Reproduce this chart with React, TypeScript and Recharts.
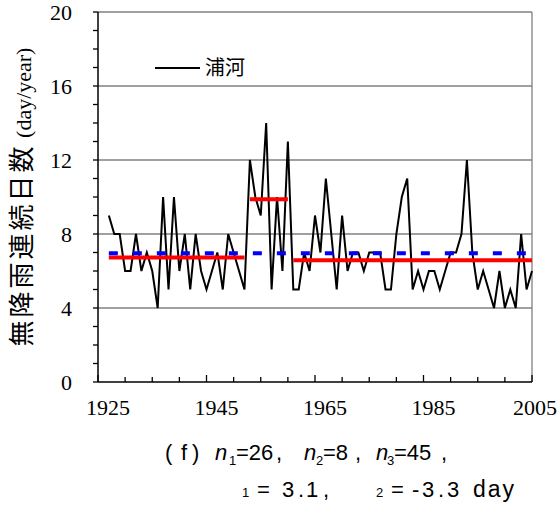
import React from 'react'
import { LineChart, Line, XAxis, YAxis, CartesianGrid, ReferenceLine } from 'recharts'

// 浦河: annual count of consecutive no-rain days, 1927-2005
const values = [
  9, 8, 8, 6, 6, 8, 6, 7, 6, 4, 10, 5, 10, 6, 8, 5, 8, 6, 5, 6, 7, 5, 8, 7, 6, 5,
  12, 10, 9, 14, 5, 10, 6, 13,
  5, 5, 7, 6, 9, 7, 11, 8, 5, 9, 6, 7, 7, 6, 7, 7, 7, 5, 5, 8,
  10, 11, 5, 6, 5, 6, 6, 5, 6, 7, 7, 8, 12, 7, 5, 6, 5, 4, 6, 4,
  5, 4, 8, 5, 6,
]
const firstYear = 1927
const years = values.map((_, i) => firstYear + i)

// periods n1=26, n2=8, n3=45
const periods = [
  { start: 1927, end: 1952 },
  { start: 1953, end: 1960 },
  { start: 1961, end: 2005 },
]

const xTicks = [1925, 1930, 1935, 1940, 1945, 1950, 1955, 1960, 1965, 1970, 1975, 1980, 1985, 1990, 1995, 2000, 2005]
const xLabels = [1925, 1945, 1965, 1985, 2005]
const yTicks = [0, 1, 2, 3, 4, 5, 6, 7, 8, 9, 10, 11, 12, 13, 14, 15, 16, 17, 18, 19, 20]
const yLabels = [0, 4, 8, 12, 16, 20]
const gridValues = [4, 8, 12, 16, 20]

const data = years.map((year, i) => ({ year, value: values[i] }))

const mean = (from: number, to: number) => {
  const sel = data.filter((d) => d.year >= from && d.year <= to)
  return sel.reduce((s, d) => s + d.value, 0) / sel.length
}
const overallMean = mean(years[0], years[years.length - 1])

const SERIF = '"Liberation Serif", "Times New Roman", serif'
const SANS = '"Liberation Sans", Arial, sans-serif'
const CJK = '"Noto Sans CJK JP", "Noto Sans CJK SC", sans-serif'

function XTick(props: any) {
  const { x, y, payload } = props
  const major = xLabels.includes(payload.value)
  return (
    <g>
      <line x1={x} y1={y} x2={x} y2={y - (major ? 7 : 5)} stroke="#000" strokeWidth={1.3} />
      {major && (
        <text x={Math.min(x + 10, 535)} y={y + 33} textAnchor="middle" fontSize={22} fontFamily={SERIF} fill="#000">
          {payload.value}
        </text>
      )}
    </g>
  )
}

export default function App() {
  return (
    <div style={{ position: 'absolute', left: 0, top: 0, width: 557, height: 506, background: '#fff' }}>
      <LineChart width={557} height={506} data={data} margin={{ top: 12, right: 25, left: 38, bottom: 94 }}>
        <CartesianGrid
          horizontalValues={gridValues}
          verticalValues={[2005]}
          stroke="#808080"
          strokeWidth={1.3}
        />
        <XAxis
          type="number"
          dataKey="year"
          domain={[1925, 2005]}
          ticks={xTicks}
          interval={0}
          tick={<XTick />}
          tickLine={false}
          tickSize={0}
          tickMargin={0}
          height={30}
          axisLine={{ stroke: '#000', strokeWidth: 1.5 }}
        />
        <YAxis
          type="number"
          domain={[0, 20]}
          ticks={yTicks}
          interval={0}
          width={60}
          tickSize={5}
          tickMargin={21}
          tickFormatter={(v: number) => (yLabels.includes(v) ? String(v) : '')}
          tick={{ fontSize: 22, fontFamily: SERIF, fill: '#000' }}
          tickLine={{ stroke: '#000', strokeWidth: 1.3 }}
          axisLine={{ stroke: '#000', strokeWidth: 1.5 }}
        />
        <Line
          type="linear"
          dataKey="value"
          stroke="#000"
          strokeWidth={2}
          dot={false}
          isAnimationActive={false}
        />
        {periods.map((p) => (
          <ReferenceLine
            key={p.start}
            segment={[
              { x: p.start, y: mean(p.start, p.end) },
              { x: p.end, y: mean(p.start, p.end) },
            ]}
            stroke="#ff0000"
            strokeWidth={4}
          />
        ))}
        <ReferenceLine
          segment={[
            { x: years[0], y: overallMean },
            { x: years[years.length - 1], y: overallMean },
          ]}
          stroke="#0000ff"
          strokeWidth={4}
          strokeDasharray="9 15"
        />
      </LineChart>

      <svg width={557} height={506} style={{ position: 'absolute', left: 0, top: 0, pointerEvents: 'none' }}>
        {/* y axis title */}
        <text transform="translate(31,197) rotate(-90)" textAnchor="middle" fill="#000">
          <tspan fontFamily={CJK} fontSize={26} letterSpacing={3}>無降雨連続日数</tspan>
          <tspan fontFamily={SERIF} fontSize={22}> (day/year)</tspan>
        </text>

        {/* legend */}
        <line x1={155} y1={68} x2={200} y2={68} stroke="#000" strokeWidth={2} />
        <text x={205} y={75} fontFamily={CJK} fontSize={20} fill="#000">浦河</text>

        {/* caption line 1 */}
        <text y={460} fontFamily={SANS} fontSize={22} fill="#000">
          <tspan x={165}>(</tspan>
          <tspan x={181}>f</tspan>
          <tspan x={192}>)</tspan>
          <tspan x={215} fontStyle="italic">n</tspan>
          <tspan x={229} dy={5} fontSize={13}>1</tspan>
          <tspan x={236} dy={-5}>=26</tspan>
          <tspan x={276}>,</tspan>
          <tspan x={304} fontStyle="italic">n</tspan>
          <tspan x={316} dy={5} fontSize={13}>2</tspan>
          <tspan x={323} dy={-5}>=8</tspan>
          <tspan x={355}>,</tspan>
          <tspan x={376} fontStyle="italic">n</tspan>
          <tspan x={387} dy={5} fontSize={13}>3</tspan>
          <tspan x={394} dy={-5}>=45</tspan>
          <tspan x={441}>,</tspan>
        </text>

        {/* caption line 2 */}
        <text y={497} fontFamily={SANS} fontSize={22} fill="#000">
          <tspan x={242} fontSize={13}>1</tspan>
          <tspan x={257}>=</tspan>
          <tspan x={282}>3</tspan>
          <tspan x={298}>.</tspan>
          <tspan x={306}>1</tspan>
          <tspan x={323}>,</tspan>
          <tspan x={376} fontSize={13}>2</tspan>
          <tspan x={391}>=</tspan>
          <tspan x={412}>-</tspan>
          <tspan x={422}>3</tspan>
          <tspan x={438}>.</tspan>
          <tspan x={447}>3</tspan>
          <tspan x={473} fontSize={23} letterSpacing={2}>day</tspan>
        </text>
      </svg>
    </div>
  )
}
